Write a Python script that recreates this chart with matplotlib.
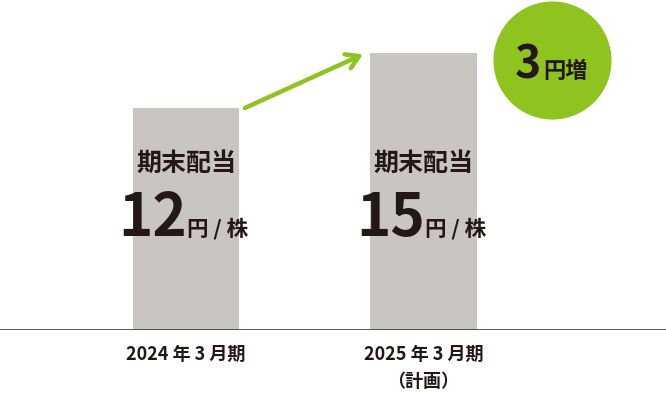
import matplotlib.pyplot as plt

plt.rcParams['font.family'] = ['Noto Sans CJK JP', 'DejaVu Sans']

# Datos
periodos = ['2024 年 3 月期', '2025 年 3 月期\n（計画）']
dividendos = [12, 15]
etiqueta = '期末配当'
unidad = '円 / 株'
aumento = '3'

color_barra = '#c9c6c1'
color_verde = '#8fc31f'
color_texto = '#231815'

fig = plt.figure(figsize=(6.66, 3.93), dpi=100)
ax = fig.add_axes([0, 63 / 393, 1, 330 / 393])

x = list(range(len(dividendos)))
ax.bar(x, dividendos, width=0.45, color=color_barra, zorder=1)

ax.set_xlim(-0.783, 2.021)
ax.set_ylim(0, 330 / 18.5)

# Textos dentro de las barras
for i, v in zip(x, dividendos):
    ax.text(i, 9.0, etiqueta, ha='center', va='center', fontsize=18,
            fontweight='bold', color=color_texto)
    ax.text(i + 0.005, 5.1, str(v), ha='right', va='baseline', fontsize=42,
            fontweight='bold', color=color_texto)
    ax.text(i + 0.005, 5.1, unidad, ha='left', va='baseline', fontsize=15.5,
            fontweight='bold', color=color_texto)

# Flecha verde
ax.annotate('', xy=(0.745, 14.9), xytext=(0.248, 12.0),
            arrowprops=dict(arrowstyle='->,head_length=0.9,head_width=0.55',
                            color=color_verde, lw=3.2, shrinkA=0, shrinkB=0))

# Círculo con el aumento
cx, cy = 1.541, 14.6
ax.scatter([cx], [cy], s=84 ** 2, color=color_verde, zorder=3, clip_on=False)
ax.text(cx - 0.045, cy - 1.0, aumento, ha='right', va='baseline', fontsize=32,
        fontweight='bold', color=color_texto, zorder=4)
ax.text(cx - 0.035, cy - 1.0, '円増', ha='left', va='baseline', fontsize=16,
        fontweight='bold', color=color_texto, zorder=4)

# Eje
ax.axhline(0, color='#3e3a39', lw=1.2, zorder=2)
for s in ax.spines.values():
    s.set_visible(False)
ax.set_yticks([])
ax.set_xticks(x)
ax.set_xticklabels(periodos, fontsize=13, fontweight='bold', color=color_texto,
                   linespacing=1.5, va='top')
ax.tick_params(axis='x', length=0, pad=11)

fig.savefig('out.png', dpi=100)
